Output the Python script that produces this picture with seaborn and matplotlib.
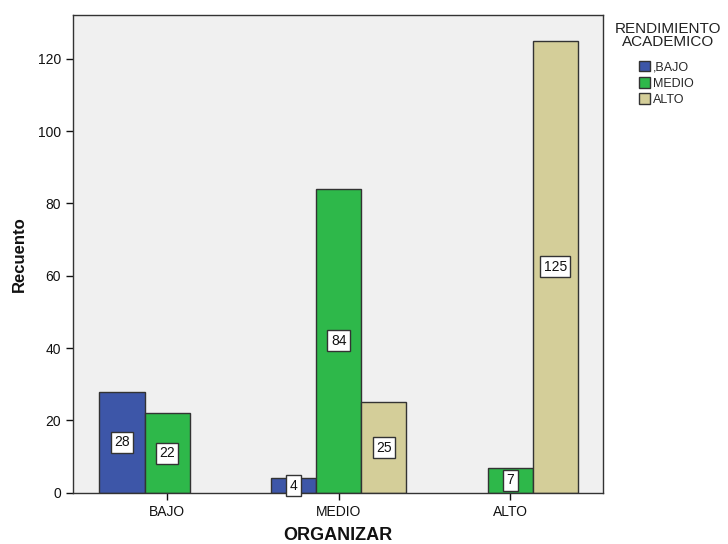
import pandas as pd
import matplotlib
matplotlib.use("Agg")
import matplotlib.pyplot as plt
import seaborn as sns

sns.set_theme(style="white")
plt.rcParams["font.family"] = ["Liberation Sans", "DejaVu Sans"]

categories = ["BAJO", "MEDIO", "ALTO"]
hue_levels = [",BAJO", "MEDIO", "ALTO"]
organizar = ["BAJO", "BAJO", "MEDIO", "MEDIO", "MEDIO", "ALTO", "ALTO"]
rendimiento = [",BAJO", "MEDIO", ",BAJO", "MEDIO", "ALTO", "MEDIO", "ALTO"]
recuento = [28, 22, 4, 84, 25, 7, 125]

palette = {",BAJO": "#3D56A8", "MEDIO": "#2EB84A", "ALTO": "#D4CE99"}

df = pd.DataFrame({"ORGANIZAR": organizar, "RENDIMIENTO": rendimiento, "Recuento": recuento})

fig = plt.figure(figsize=(7.28, 5.44), dpi=100)
ax = fig.add_axes([0.1, 0.094, 0.728, 0.878])
ax.set_facecolor("#F0F0F0")

sns.barplot(data=df, x="ORGANIZAR", y="Recuento", hue="RENDIMIENTO",
            order=categories, hue_order=hue_levels, palette=palette,
            width=0.79, edgecolor="#333333", linewidth=1.0, saturation=1,
            ax=ax, legend=True)

# value labels in white boxes at bar middle
for cont in ax.containers:
    for bar in cont:
        h = bar.get_height()
        if h is None or h != h or h <= 0:
            continue
        ax.text(bar.get_x() + bar.get_width() / 2, h / 2, f"{int(h)}",
                ha="center", va="center", fontsize=10, color="#111111",
                bbox=dict(boxstyle="square,pad=0.25", fc="white", ec="#333333", lw=1))

ax.set_ylim(0, 132)
ax.set_xlim(-0.55, 2.54)
ax.set_yticks([0, 20, 40, 60, 80, 100, 120])
ax.tick_params(axis="both", which="both", direction="out", length=5, width=1,
               colors="#111111", labelsize=10, left=True, bottom=True)
for s in ax.spines.values():
    s.set_color("#333333")
    s.set_linewidth(1)

ax.set_xlabel("ORGANIZAR", fontsize=13, fontweight="bold", labelpad=6, color="#111111")
ax.set_ylabel("Recuento", fontsize=12, fontweight="bold", labelpad=8, color="#111111")

# legend: title drawn separately so it sits centred above the entries
handles, labels = ax.get_legend_handles_labels()
ax.get_legend().remove()
fig.text(0.918, 0.96, "RENDIMIENTO\nACADEMICO", ha="center", va="top",
         fontsize=11, color="#222222", linespacing=0.95)
leg = fig.legend(handles, labels, loc="upper left", bbox_to_anchor=(0.878, 0.888),
                 frameon=False, fontsize=9, handlelength=0.9, handleheight=0.9,
                 handletextpad=0.2, labelspacing=0.3, borderpad=0, borderaxespad=0)
for p in leg.get_patches():
    p.set_edgecolor("#333333")

fig.savefig("out.png", dpi=100, facecolor="white")
